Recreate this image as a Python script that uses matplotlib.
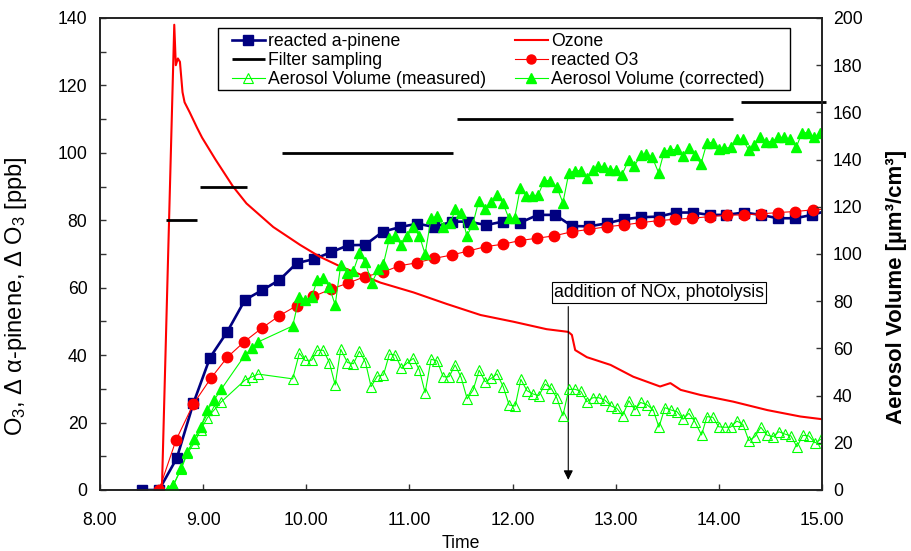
#!/usr/bin/env python3
"""Smog chamber run: reacted a-pinene / O3, ozone and aerosol volume vs time."""

import matplotlib
matplotlib.use("Agg")
import matplotlib.pyplot as plt
from matplotlib.patches import Rectangle
from matplotlib.ticker import MultipleLocator, FormatStrFormatter

plt.rcParams["font.family"] = ["Liberation Sans", "DejaVu Sans"]
plt.rcParams["mathtext.fontset"] = "custom"
plt.rcParams["mathtext.rm"] = "Liberation Sans"
plt.rcParams["mathtext.it"] = "Liberation Sans:italic"
plt.rcParams["mathtext.bf"] = "Liberation Sans:bold"

# --- reacted a-pinene (left axis, ppb)
pinene_t = [8.404, 8.572, 8.744, 8.905, 9.067, 9.235, 9.406, 9.574, 9.740, 9.908,
            10.076, 10.237, 10.408, 10.570, 10.742, 10.910, 11.078, 11.243, 11.410,
            11.572, 11.744, 11.906, 12.074, 12.245, 12.413, 12.575, 12.741, 12.914,
            13.076, 13.244, 13.415, 13.587, 13.749, 13.910, 14.072, 14.240, 14.408,
            14.573, 14.741, 14.903, 15.070]
pinene_v = [0, 0, 9.4, 25.7, 39.3, 47.0, 56.4, 59.3, 62.3, 67.3,
            68.5, 70.5, 72.6, 72.7, 76.6, 78.0, 79.0, 78.0, 79.6,
            79.6, 78.6, 79.6, 79.3, 81.6, 81.6, 78.3, 78.2, 79.1,
            80.3, 80.9, 81.1, 82.3, 82.3, 81.6, 81.6, 82.3, 81.6,
            80.6, 80.6, 81.6, 83.0]

# --- ozone (left axis, ppb)
ozone_t = [8.60, 8.72, 8.735, 8.755, 8.775, 8.80, 8.82, 8.87, 8.94, 8.99, 9.12,
           9.29, 9.42, 9.68, 9.94, 10.13, 10.33, 10.72, 11.04, 11.36, 11.69,
           12.01, 12.33, 12.54, 12.575, 12.607, 12.72, 12.95, 13.17, 13.43,
           13.53, 13.63, 13.82, 14.14, 14.47, 14.79, 15.0]
ozone_v = [0, 138, 126, 128, 127, 118, 115, 112, 107.5, 104.5, 98,
           90, 85, 78, 72.7, 69.2, 66.3, 61.5, 58.6, 55.2, 51.9,
           49.9, 47.7, 46.9, 46.0, 41.5, 39.4, 37.1, 33.6, 30.7,
           31.7, 29.7, 28.2, 26.2, 23.7, 21.8, 21.0]

# --- filter sampling periods (start, end, level)
filter_start = [8.64, 8.97, 9.76, 11.46, 14.21]
filter_end = [8.94, 9.43, 11.42, 14.14, 15.04]
filter_level = [80, 90, 100, 110, 115]

# --- reacted O3 (left axis, ppb)
o3_t = [8.572, 8.737, 8.905, 9.074, 9.235, 9.400, 9.568, 9.740, 9.908, 10.069,
        10.240, 10.408, 10.570, 10.742, 10.903, 11.072, 11.240, 11.410, 11.572,
        11.741, 11.906, 12.074, 12.241, 12.406, 12.575, 12.741, 12.914, 13.076,
        13.244, 13.415, 13.577, 13.739, 13.910, 14.078, 14.240, 14.408, 14.576,
        14.741, 14.909, 15.070]
o3_v = [0, 14.8, 25.5, 33.1, 39.4, 44.0, 48.0, 51.7, 54.7, 57.4,
        59.6, 61.4, 63.3, 64.6, 66.5, 67.4, 68.7, 69.7, 70.9,
        72.2, 72.9, 74.0, 74.7, 75.4, 76.6, 77.3, 78.1, 78.6,
        79.3, 79.9, 80.3, 80.6, 81.1, 81.5, 81.6, 81.9, 82.3,
        82.6, 83.1, 83.4]

# --- aerosol volume, measured (right axis, um3/cm3)
meas_t = [8.657, 8.711, 8.786, 8.847, 8.912, 8.977, 9.041, 9.106, 9.177, 9.406,
          9.471, 9.536, 9.868, 9.933, 9.988, 10.053, 10.107, 10.166, 10.224,
          10.280, 10.334, 10.399, 10.457, 10.515, 10.574, 10.628, 10.690,
          10.748, 10.806, 10.864, 10.922, 10.980, 11.039, 11.097, 11.152,
          11.210, 11.269, 11.327, 11.385, 11.443, 11.501, 11.560, 11.618,
          11.676, 11.734, 11.792, 11.850, 11.909, 11.967, 12.025, 12.080,
          12.139, 12.197, 12.255, 12.316, 12.374, 12.430, 12.488, 12.545,
          12.604, 12.662, 12.720, 12.778, 12.837, 12.895, 12.953, 13.011,
          13.066, 13.128, 13.186, 13.241, 13.303, 13.364, 13.419, 13.477,
          13.535, 13.594, 13.652, 13.710, 13.768, 13.832, 13.885, 13.943,
          13.997, 14.055, 14.113, 14.175, 14.233, 14.291, 14.349, 14.407,
          14.465, 14.524, 14.582, 14.640, 14.699, 14.757, 14.815, 14.873,
          14.932, 14.990, 15.050]
meas_v = [0, 2.0, 8.8, 15.5, 19.8, 25.5, 30.6, 33.9, 37.4, 46.6,
          47.9, 49.1, 47.1, 58.0, 54.9, 55.0, 59.2, 59.2, 54.0,
          44.5, 59.6, 54.0, 53.5, 58.8, 54.1, 43.8, 48.3,
          48.7, 57.6, 57.2, 51.6, 53.9, 55.8, 50.8, 41.2,
          55.4, 54.7, 48.0, 48.0, 53.0, 47.7, 38.6, 42.4,
          50.8, 45.9, 47.3, 49.2, 43.8, 36.0, 35.6, 46.9,
          42.1, 40.7, 40.0, 44.9, 43.1, 38.9, 31.5, 42.6,
          42.7, 41.8, 37.4, 39.1, 39.1, 38.1, 35.6, 34.6,
          31.5, 37.8, 33.9, 37.1, 36.1, 33.9, 26.6, 34.9,
          33.9, 33.2, 30.0, 32.5, 28.9, 23.3, 31.1, 30.8,
          26.8, 26.6, 26.6, 29.2, 27.8, 20.9, 22.6, 26.6,
          23.3, 22.6, 24.7, 23.7, 22.9, 18.3, 23.2, 22.9,
          20.0, 21.5, 22.0]

# --- aerosol volume, wall-loss corrected (right axis, um3/cm3)
corr_t = [8.657, 8.711, 8.786, 8.847, 8.912, 8.977, 9.041, 9.106, 9.177, 9.406,
          9.471, 9.536, 9.868, 9.933, 9.988, 10.053, 10.107, 10.166, 10.224,
          10.280, 10.334, 10.399, 10.457, 10.515, 10.570, 10.635, 10.700,
          10.748, 10.806, 10.861, 10.920, 10.975, 11.039, 11.097, 11.152,
          11.210, 11.269, 11.330, 11.395, 11.446, 11.501, 11.557, 11.615,
          11.673, 11.731, 11.790, 11.848, 11.906, 11.964, 12.019, 12.074,
          12.132, 12.190, 12.248, 12.307, 12.365, 12.430, 12.488, 12.545,
          12.604, 12.662, 12.720, 12.778, 12.833, 12.888, 12.947, 13.005,
          13.060, 13.125, 13.180, 13.244, 13.296, 13.354, 13.415, 13.470,
          13.529, 13.593, 13.652, 13.706, 13.771, 13.826, 13.885, 13.943,
          13.997, 14.052, 14.117, 14.175, 14.233, 14.288, 14.343, 14.401,
          14.456, 14.514, 14.573, 14.634, 14.692, 14.750, 14.806, 14.867,
          14.925, 14.983, 15.040]
corr_v = [0, 2.0, 9.2, 16.0, 21.5, 26.8, 33.9, 38.1, 42.8, 57.2,
          60.0, 62.8, 69.5, 81.9, 80.5, 81.9, 89.0, 90.0, 85.9,
          78.4, 95.3, 92.0, 92.9, 100.3, 96.7, 87.8, 93.5,
          95.8, 106.6, 107.6, 103.8, 107.6, 111.3, 107.6, 100.0,
          115.1, 116.1, 111.6, 113.0, 118.9, 117.5, 107.6, 112.7,
          122.6, 118.9, 122.2, 125.0, 121.7, 115.1, 115.1, 127.8,
          124.6, 124.6, 125.0, 131.1, 131.1, 128.3, 121.7, 134.2,
          135.3, 135.3, 132.3, 135.4, 137.2, 137.0, 135.6, 135.6,
          133.5, 139.8, 137.3, 141.9, 142.4, 141.0, 134.5, 143.4,
          144.1, 144.4, 141.5, 144.8, 141.9, 138.1, 147.2, 147.2,
          144.4, 144.8, 145.2, 148.6, 148.6, 144.1, 146.2, 149.7,
          147.6, 147.6, 149.4, 149.4, 148.6, 145.2, 151.4, 151.4,
          149.4, 151.4, 152.0]

FS = 12.7

fig = plt.figure(figsize=(9.11, 5.51), dpi=100)
ax = fig.add_axes([100 / 911, 1 - 490 / 551, 722 / 911, 472 / 551])
ax2 = ax.twinx()

h_pin, = ax.plot(pinene_t, pinene_v, color="#000080", lw=1.9, marker="s",
                 ms=7.2, mfc="#000080", mec="#000080", label="reacted a-pinene")
h_oz, = ax.plot(ozone_t, ozone_v, color="#ff0000", lw=1.5, label="Ozone")
h_fil = None
for s, e, lev in zip(filter_start, filter_end, filter_level):
    h_fil, = ax.plot([s, e], [lev, lev], color="black", lw=2.0,
                     solid_capstyle="butt", clip_on=False, label="Filter sampling")
h_o3, = ax.plot(o3_t, o3_v, color="#ff0000", lw=0.8, marker="o", ms=7.5,
                mfc="#ff0000", mec="#ff0000", label="reacted O3")

h_me, = ax2.plot(meas_t, meas_v, color="#00ff00", lw=0.8, marker="^", ms=6.8,
                 mfc="none", mec="#00ff00", mew=0.8,
                 label="Aerosol Volume (measured)")
h_co, = ax2.plot(corr_t, corr_v, color="#00ff00", lw=0.8, marker="^", ms=7.5,
                 mfc="#00ff00", mec="#00ff00",
                 label="Aerosol Volume (corrected)")

ax.set_xlim(8, 15)
ax.set_ylim(0, 140)
ax2.set_ylim(0, 200)
ax.xaxis.set_major_locator(MultipleLocator(1))
ax.xaxis.set_major_formatter(FormatStrFormatter("%.2f"))
ax.yaxis.set_major_locator(MultipleLocator(20))
ax.yaxis.set_minor_locator(MultipleLocator(10))
ax2.yaxis.set_major_locator(MultipleLocator(20))

for a in (ax, ax2):
    a.tick_params(which="both", direction="in", length=4.5, width=1,
                  labelsize=FS, color="#333333")
    for sp in a.spines.values():
        sp.set_linewidth(1.2)
        sp.set_color("#222222")
ax.tick_params(axis="x", pad=16)
ax.tick_params(axis="y", pad=9)
ax2.tick_params(axis="y", pad=8)

ax.set_xlabel("Time", fontsize=FS, labelpad=4)
ax.set_ylabel(r"O$_3$, $\Delta$ α-pinene, $\Delta$ O$_3$ [ppb]", fontsize=17)
ax.yaxis.set_label_coords(-0.099, 0.41)
ax2.set_ylabel("Aerosol Volume [µm³/cm³]", fontsize=16, fontweight="bold")
ax2.yaxis.set_label_coords(1.088, 0.43)

# annotation
ax.text(13.422, 58.5, "addition of NOx, photolysis", fontsize=FS,
        ha="center", va="center", zorder=5,
        bbox=dict(boxstyle="square,pad=0.12", fc="white", ec="black", lw=0.8))
ax.annotate("", xy=(12.54, 3.0), xytext=(12.54, 54.4),
            arrowprops=dict(arrowstyle="-|>", color="black", lw=0.8,
                            shrinkA=0, shrinkB=0, mutation_scale=14))

# legend frame drawn separately so the entries can sit exactly as in the source
frame = Rectangle((218 / 911, 1 - 90 / 551), 572 / 911, 62 / 551,
                  transform=fig.transFigure, fc="white", ec="black", lw=1.0,
                  zorder=9, clip_on=False)
ax2.add_patch(frame)
leg = ax2.legend([h_pin, h_fil, h_me, h_oz, h_o3, h_co],
                 ["reacted a-pinene", "Filter sampling", "Aerosol Volume (measured)",
                  "Ozone", "reacted O3", "Aerosol Volume (corrected)"],
                 ncol=2, loc="upper left",
                 bbox_to_anchor=(232 / 911, 1 - 33.5 / 551),
                 bbox_transform=fig.transFigure, borderaxespad=0, borderpad=0,
                 fontsize=FS, numpoints=1, handlelength=1.86, handletextpad=0.17,
                 labelspacing=0.09, columnspacing=1.64, frameon=False)
leg.set_zorder(10)
for lh in leg.legend_handles:
    lh.set_markersize(6.5)

fig.savefig("out.png", dpi=100)
